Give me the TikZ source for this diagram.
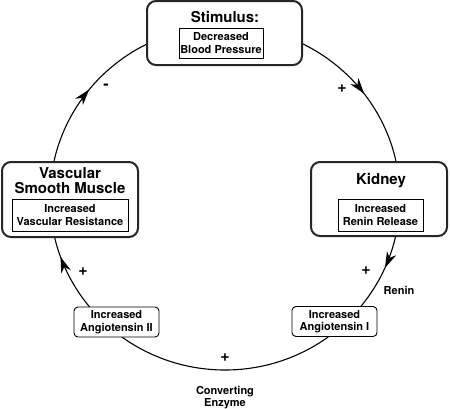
\documentclass[tikz,border=0pt]{standalone}
\usepackage{fontspec}
\setmainfont{TeX Gyre Heros}
\usetikzlibrary{arrows.meta,decorations.markings}
\tikzset{
  bigbox/.style={draw=black!85, line width=2pt, rounded corners=9pt, fill=white, inner sep=0pt},
  innerbox/.style={draw=black, line width=0.9pt, fill=white, inner sep=0pt, align=center,
    font=\bfseries\fontsize{11}{12.5}\selectfont},
  angbox/.style={draw=black, line width=0.9pt, rounded corners=4pt, fill=white, inner sep=0pt, align=center,
    minimum width=85pt, minimum height=30pt, font=\bfseries\fontsize{11}{12.5}\selectfont},
  title/.style={inner sep=0pt, align=center, font=\bfseries\fontsize{15}{15}\selectfont},
  smalltext/.style={inner sep=0pt, align=center, font=\bfseries\fontsize{11}{12.5}\selectfont},
  sign/.style={inner sep=0pt, font=\bfseries\fontsize{16}{16}\selectfont},
  tipstyle/.style={},
  arrowmark/.style={decoration={markings,
    mark=at position 0.147 with {\arrow{Stealth[length=16pt,width=10pt,inset=5pt]}},
    mark=at position 0.316 with {\arrow{Stealth[length=16pt,width=10pt,inset=5pt]}},
    mark=at position 0.695 with {\arrow{Stealth[length=16pt,width=10pt,inset=5pt]}},
    mark=at position 0.858 with {\arrow{Stealth[length=16pt,width=10pt,inset=5pt]}}},
    postaction=decorate}
}
\begin{document}
\begin{tikzpicture}[x=1pt,y=1pt]
\useasboundingbox (0,0) rectangle (450,-408);
% cycle
\coordinate (ctr) at (225,-198);
\coordinate (topc) at (225,-26);
\draw[line width=1.1pt, arrowmark] (topc) arc[start angle=90, end angle=-270, x radius=175, y radius=172];
% big boxes
\node[bigbox, minimum width=155pt, minimum height=64pt] (stim) at (224.5,-33) {};
\node[bigbox, minimum width=136pt, minimum height=74pt] (kid) at (379,-199) {};
\node[bigbox, minimum width=136pt, minimum height=75pt] (vsm) at (70,-199.5) {};
% titles
\node[title, anchor=base] (stimt) at (225,-22.5) {Stimulus:};
\node[title, anchor=base] (kidt) at (381,-184) {Kidney};
\node[title, anchor=north] (vsmt) at (70,-167) {Vascular\\Smooth Muscle};
% inner boxes
\node[innerbox, minimum width=84pt, minimum height=30pt] (stimi) at (221,-43) {Decreased\\Blood Pressure};
\node[innerbox, minimum width=85pt, minimum height=32pt] (kidi) at (380.5,-215) {Increased\\Renin Release};
\node[innerbox, minimum width=116pt, minimum height=32pt] (vsmi) at (70,-215) {Increased\\Vascular Resistance};
% angiotensin boxes
\node[angbox] (ang2) at (116.5,-322) {Increased\\Angiotensin II};
\node[angbox] (ang1) at (334.5,-321.5) {Increased\\Angiotensin I};
% signs and labels
\node[sign] (p1) at (342,-89) {+};
\node[sign] (p2) at (366,-271) {+};
\node[sign] (p3) at (225,-358) {+};
\node[sign] (p4) at (83,-272) {+};
\node[sign] (m1) at (106,-87) {-};
\node[smalltext] (renin) at (399,-290) {Renin};
\node[smalltext, anchor=north] (conv) at (225,-386) {Converting\\Enzyme};
\end{tikzpicture}
\end{document}
